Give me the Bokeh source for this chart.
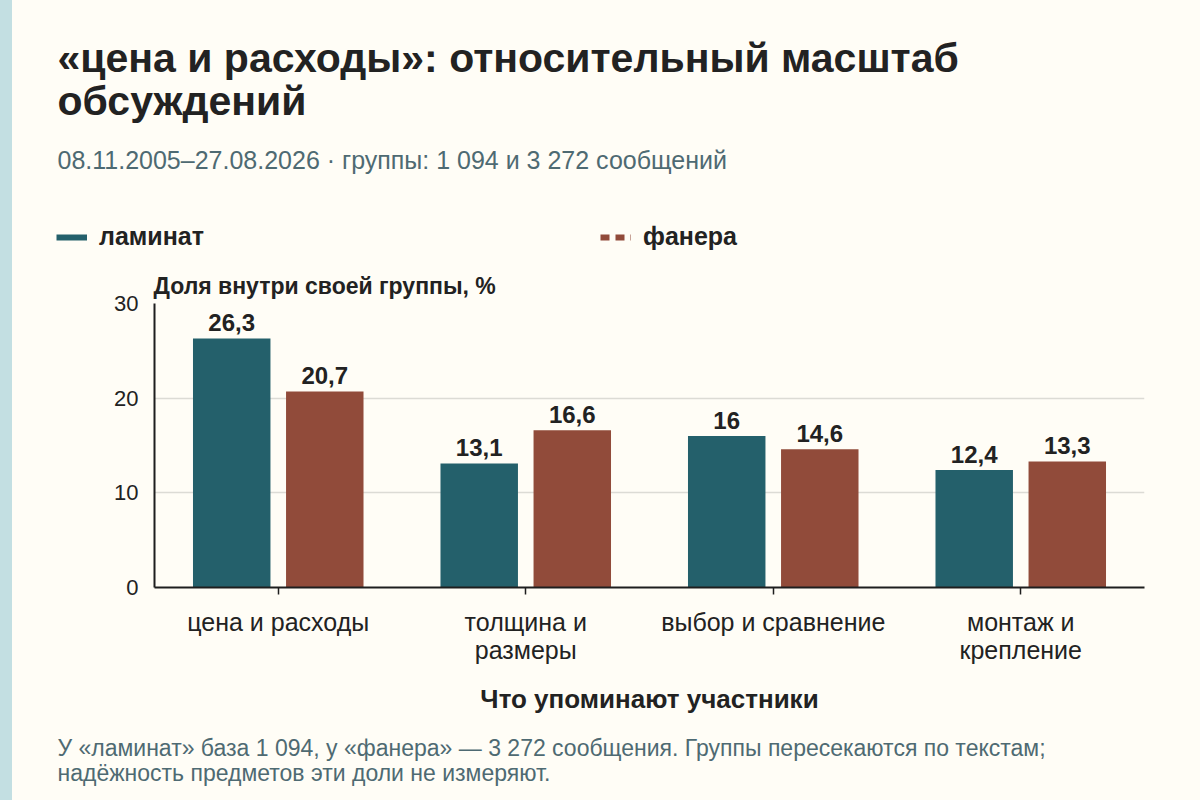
from bokeh.plotting import figure
from bokeh.models import (ColumnDataSource, FactorRange, Range1d, Label, Legend,
                          LegendItem, FixedTicker, CategoricalAxis, CustomJSTickFormatter)
from bokeh.transform import dodge
from bokeh.embed import file_html
from bokeh.resources import INLINE
from bokeh.core.properties import value

# ---------------- data ----------------
categories = ["цена и расходы", "толщина и размеры", "выбор и сравнение", "монтаж и крепление"]
label_line1 = ["цена и расходы", "толщина и", "выбор и сравнение", "монтаж и"]
label_line2 = ["", "размеры", "", "крепление"]
series_names = ["ламинат", "фанера"]
laminat = [26.3, 13.1, 16.0, 12.4]
fanera = [20.7, 16.6, 14.6, 13.3]
y_ticks = [0, 10, 20, 30]

title_lines = ["«цена и расходы»: относительный масштаб", "обсуждений"]
subtitle = "08.11.2005–27.08.2026 · группы: 1 094 и 3 272 сообщений"
y_title = "Доля внутри своей группы, %"
x_title = "Что упоминают участники"
note_lines = ["У «ламинат» база 1 094, у «фанера» — 3 272 сообщения. Группы пересекаются по текстам;",
              "надёжность предметов эти доли не измеряют."]

# ---------------- style ----------------
FONT = "Liberation Sans"
TEAL = "#24606b"
BROWN = "#914b3a"
DARK = "#222222"
AXIS = "#1e1e1e"
SLATE = "#4e6a72"
GRID = "#dcdbd5"
BG = "#fffdf6"
STRIPE = "#c3dfe2"

W_PAGE = 1192
H_HEAD = 262
H_MAIN = 470
H_FOOT = 60


def fmt(v):
    return f"{v:g}".replace(".", ",")


def bare(height):
    f = figure(width=W_PAGE, height=height, x_range=Range1d(0, 1), y_range=Range1d(0, 1),
               x_axis_type=None, y_axis_type=None, output_backend="svg",
               toolbar_location=None, min_border=0)
    f.border_fill_color = None
    f.background_fill_color = None
    f.outline_line_color = None
    f.grid.visible = False
    return f


def add_label(fig, fig_h, text, x, baseline, size_px, color, bold=False):
    # anchor is placed at the visual middle of the line
    anchor = baseline - 0.32 * size_px
    fig.add_layout(Label(x=x, y=fig_h - anchor, x_units="screen", y_units="screen", text=text,
                         text_font=FONT, text_font_size=f"{size_px}px",
                         text_font_style="bold" if bold else "normal",
                         text_color=color, text_baseline="alphabetic"))


# ---------------- header ----------------
head = bare(H_HEAD)
add_label(head, H_HEAD, title_lines[0], 57, 71, 41, DARK, True)
add_label(head, H_HEAD, title_lines[1], 57, 114, 41, DARK, True)
add_label(head, H_HEAD, subtitle, 57, 167, 25, SLATE)

nan = float("nan")
r1 = head.line(x=[nan, nan], y=[nan, nan], line_color=TEAL, line_width=6)
r2 = head.line(x=[nan, nan], y=[nan, nan], line_color=BROWN, line_width=6, line_dash="9 6")
for r, name, lx in [(r1, series_names[0], 56), (r2, series_names[1], 600)]:
    leg = Legend(items=[LegendItem(label=value(name), renderers=[r])],
                 location=(lx, H_HEAD - 237 - 14), glyph_width=31, glyph_height=28,
                 label_standoff=12, padding=0, margin=0, spacing=0,
                 border_line_color=None, background_fill_alpha=0,
                 label_text_font=FONT, label_text_font_size="25px",
                 label_text_font_style="bold", label_text_color=DARK)
    head.add_layout(leg)

# ---------------- main chart ----------------
src = ColumnDataSource(dict(
    cat=categories,
    lam=laminat,
    fan=fanera,
    lam_lbl=[fmt(v) for v in laminat],
    fan_lbl=[fmt(v) for v in fanera],
))

p = figure(width=W_PAGE, height=H_MAIN,
           x_range=FactorRange(factors=categories, range_padding=0, factor_padding=0),
           y_range=Range1d(0, 30),
           output_backend="svg", toolbar_location=None,
           min_border_left=154, min_border_right=48,
           min_border_top=303 - H_HEAD, min_border_bottom=H_HEAD + H_MAIN - 587)
p.border_fill_color = None
p.background_fill_color = None
p.outline_line_color = None

p.title.text = y_title
p.title.align = "left"
p.title.offset = -1
p.title.standoff = 10
p.title.text_font = FONT
p.title.text_font_size = "23px"
p.title.text_font_style = "bold"
p.title.text_color = DARK

OFF = 0.188
W = 0.313
p.vbar(x=dodge("cat", -OFF, range=p.x_range), top="lam", width=W, source=src,
       fill_color=TEAL, line_color=None)
p.vbar(x=dodge("cat", OFF, range=p.x_range), top="fan", width=W, source=src,
       fill_color=BROWN, line_color=None)

for off, col, lbl in [(-OFF, "lam", "lam_lbl"), (OFF, "fan", "fan_lbl")]:
    p.text(x=dodge("cat", off, range=p.x_range), y=col, text=lbl, source=src,
           text_align="center", text_baseline="alphabetic", y_offset=-16,
           text_font=value(FONT), text_font_size="24px", text_font_style="bold",
           text_color=DARK)

p.yaxis.ticker = FixedTicker(ticks=y_ticks)
p.ygrid.ticker = FixedTicker(ticks=y_ticks)
p.yaxis.major_tick_out = 0
p.yaxis.major_tick_in = 0
p.yaxis.minor_tick_out = 0
p.yaxis.minor_tick_in = 0
p.yaxis.major_label_standoff = 16
p.yaxis.major_label_text_font = FONT
p.yaxis.major_label_text_font_size = "22px"
p.yaxis.major_label_text_color = DARK
p.yaxis.axis_line_color = AXIS
p.yaxis.axis_line_width = 2

line_code = "const i = cats.indexOf(tick); return i < 0 ? '' : lines[i];"

ax1 = p.xaxis[0]
ax1.formatter = CustomJSTickFormatter(args=dict(cats=categories, lines=label_line1), code=line_code)
ax1.major_tick_out = 7
ax1.major_tick_in = 0
ax1.major_tick_line_width = 1.5
ax1.major_tick_line_color = AXIS
ax1.major_label_standoff = 13
ax1.major_label_text_font = FONT
ax1.major_label_text_font_size = "25px"
ax1.major_label_text_color = DARK
ax1.axis_line_color = AXIS
ax1.axis_line_width = 2

ax2 = CategoricalAxis(formatter=CustomJSTickFormatter(args=dict(cats=categories, lines=label_line2),
                                                      code=line_code),
                      axis_line_color=None, major_tick_line_color=None,
                      major_tick_out=0, major_tick_in=0, major_label_standoff=-3,
                      major_label_text_font=FONT, major_label_text_font_size="25px",
                      major_label_text_color=DARK,
                      axis_label=x_title, axis_label_standoff=17,
                      axis_label_text_font=FONT, axis_label_text_font_size="26px",
                      axis_label_text_font_style="bold", axis_label_text_color=DARK)
p.add_layout(ax2, "below")

p.xgrid.grid_line_color = None
p.ygrid.grid_line_color = GRID
p.ygrid.grid_line_width = 1.5

# ---------------- footer ----------------
foot = bare(H_FOOT)
top_foot = H_HEAD + H_MAIN
add_label(foot, H_FOOT, note_lines[0], 57, 755 - top_foot, 23, SLATE)
add_label(foot, H_FOOT, note_lines[1], 57, 780 - top_foot, 23, SLATE)

html = file_html([head, p, foot], INLINE)
html = html.replace("</head>", "<style>body{background:linear-gradient(90deg," + STRIPE +
                    " 0px," + STRIPE + " 12px," + BG + " 12px," + BG + " 100%);}</style></head>", 1)
open("out.html", "w").write(html)
